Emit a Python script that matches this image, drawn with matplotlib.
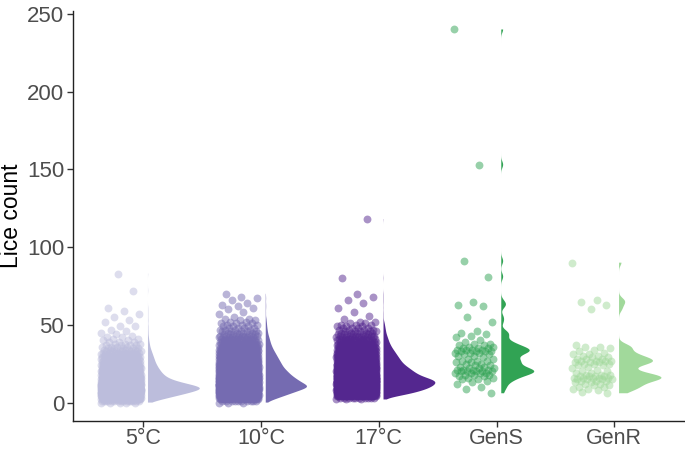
import numpy as np
import matplotlib
matplotlib.use("Agg")
import matplotlib.pyplot as plt

plt.rcParams['font.family'] = ['Liberation Sans', 'DejaVu Sans']

groups = ["5°C", "10°C", "17°C", "GenS", "GenR"]
colors = ["#bcbddc", "#756bb1", "#54278f", "#31a354", "#a1d99b"]

# temperature groups: number of fish per lice count (value = index + start)
t5_start = 0
t5_counts = [5, 15, 27, 38, 50, 62, 73, 84, 94, 100, 96, 85, 72, 60, 50, 42,
             36, 32, 29, 26, 24, 22, 20, 18, 17, 15, 14, 13, 12, 11, 10, 9,
             8, 7, 6, 5, 4, 4, 3, 3, 2, 2, 2, 1, 1, 1]
t5_extra = [46, 47, 49, 49, 52, 53, 55, 57, 59, 61, 72, 83]

t10_start = 0
t10_counts = [3, 10, 20, 30, 40, 50, 60, 70, 80, 90, 100, 95, 88, 82, 76, 71,
              66, 61, 57, 53, 50, 46, 43, 40, 38, 36, 34, 32, 30, 28, 26, 24,
              22, 20, 18, 16, 15, 13, 12, 11, 10, 9, 8, 7, 6, 5, 5, 4, 4, 3,
              3, 3, 2, 2, 2, 1]
t10_extra = [57, 58, 60, 61, 62, 63, 64, 66, 67, 68, 70]

t17_start = 2
t17_counts = [3, 10, 25, 42, 55, 66, 76, 84, 90, 95, 98, 100, 98, 90, 80, 72,
              66, 61, 57, 53, 49, 45, 41, 38, 35, 33, 31, 29, 27, 25, 23, 21,
              19, 17, 15, 14, 12, 11, 10, 9, 8, 7, 6, 5, 5, 4, 4, 3, 3, 2, 2]
t17_extra = [54, 56, 58, 61, 64, 66, 68, 70, 80, 118]

gens = [240, 153, 91, 81, 65, 63, 62, 55, 52, 46, 45, 44, 43, 42,
        40, 39, 38, 38, 37, 37, 36, 36, 35, 35, 35, 34, 34, 34, 34, 33, 33,
        33, 33, 32, 32, 32, 31, 31, 30, 30, 29, 28, 28, 27, 27, 27, 26, 26,
        25, 25, 24, 24, 23, 23, 22, 22, 22, 21, 21, 21, 21, 20, 20, 20, 20,
        20, 19, 19, 19, 19, 18, 18, 18, 17, 17, 16, 16, 15, 15, 14, 13, 12,
        10, 9, 6]
genr = [90, 66, 65, 63, 60, 37, 36, 36, 35, 34, 33, 32, 31, 31, 30, 30, 29,
        29, 28, 28, 28, 27, 27, 27, 27, 26, 26, 26, 25, 25, 25, 24, 24, 23,
        22, 21, 20, 20, 19, 19, 18, 18, 18, 17, 17, 17, 17, 16, 16, 16, 16,
        16, 15, 15, 15, 15, 14, 14, 14, 13, 13, 12, 12, 11, 11, 10, 10, 9, 9,
        8, 7, 6]


def expand(start, counts, extra):
    vals = np.repeat(np.arange(start, start + len(counts)), counts)
    return np.concatenate([vals, np.array(extra)]).astype(float)


data = [expand(t5_start, t5_counts, t5_extra),
        expand(t10_start, t10_counts, t10_extra),
        expand(t17_start, t17_counts, t17_extra),
        np.array(gens, float),
        np.array(genr, float)]

half_w = [0.44, 0.35, 0.44, 0.28, 0.36]
bws = [1.2, 1.2, 1.2, 2.0, 2.0]

fig = plt.figure(figsize=(6.85, 4.51), dpi=100)
ax = fig.add_axes([0.106, 0.066, 0.894, 0.910])

for i, (vals, c) in enumerate(zip(data, colors)):
    pos = i + 1
    # deterministic jitter to the left of the category
    frac = (np.arange(len(vals)) * 0.6180339887) % 1.0
    xj = pos - 0.36 + 0.34 * frac
    ax.scatter(xj, vals, s=32, color=c, alpha=0.5, linewidths=0, zorder=2)

    vp = ax.violinplot([vals], positions=[pos + 0.04], widths=[2 * half_w[i]],
                       showextrema=False, points=600,
                       bw_method=bws[i] / np.std(vals, ddof=1), side='high')
    for b in vp['bodies']:
        b.set_facecolor(c)
        b.set_edgecolor('none')
        b.set_alpha(1)
        b.set_zorder(3)

ax.set_xlim(0.4, 5.6)
ax.set_ylim(-12, 252)
ax.set_xticks(range(1, 6))
ax.set_xticklabels(groups)
ax.set_yticks([0, 50, 100, 150, 200, 250])
ax.set_ylabel("Lice count", fontsize=16.5, color='black', labelpad=3)

for s in ['top', 'right']:
    ax.spines[s].set_visible(False)
for s in ['left', 'bottom']:
    ax.spines[s].set_linewidth(1.0)
    ax.spines[s].set_color('#222222')
ax.tick_params(axis='both', labelcolor='#4d4d4d', color='#333333',
               length=4, width=1.0)
ax.tick_params(axis='y', labelsize=16, pad=2)
ax.tick_params(axis='x', labelsize=15.5, pad=1)

fig.savefig("out.png", dpi=100)
